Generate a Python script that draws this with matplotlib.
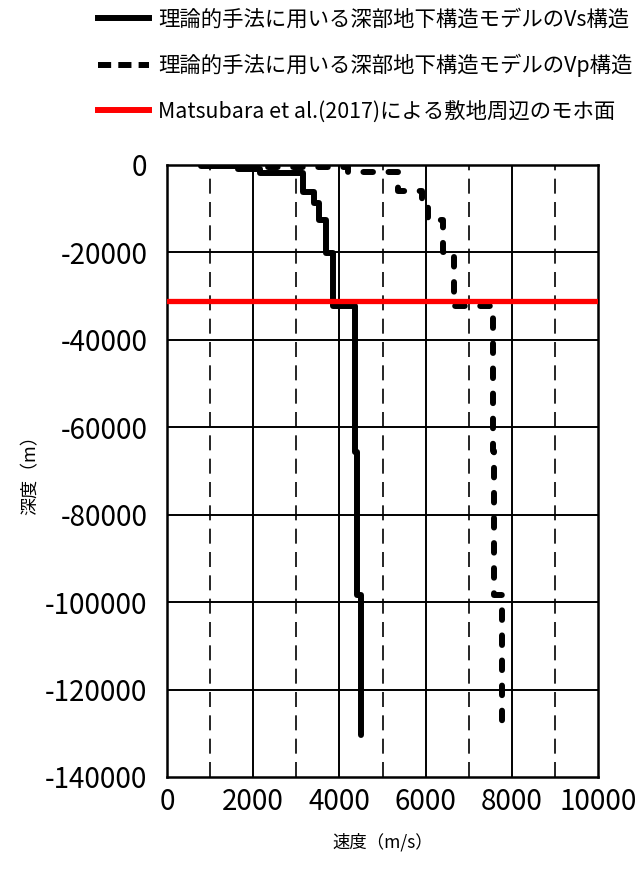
import numpy as np
import matplotlib
matplotlib.use("Agg")
import matplotlib.pyplot as plt
from matplotlib.lines import Line2D

plt.rcParams["font.family"] = ["Noto Sans CJK JP", "DejaVu Sans"]
plt.rcParams["axes.unicode_minus"] = False

# layer tops (m) and velocities (m/s); last entry = bottom of model
vs_depth = [0, -200, -1000, -1900, -6100, -8600, -12600, -20100, -32200,
            -65600, -98400, -130500]
vs_vel = [800, 1650, 2160, 3160, 3400, 3530, 3680, 3840, 4360, 4400, 4490]

vp_depth = [0, -500, -1700, -5900, -8400, -12600, -19900, -32200,
            -65400, -98400, -130500]
vp_vel = [1800, 4200, 5370, 5910, 6060, 6410, 6660, 7570, 7590, 7780]

moho_depth = -31000

labels = ["理論的手法に用いる深部地下構造モデルのVs構造",
          "理論的手法に用いる深部地下構造モデルのVp構造",
          "Matsubara et al.(2017)による敷地周辺のモホ面"]


def staircase(depth, vel):
    d = np.asarray(depth, float)
    v = np.asarray(vel, float)
    x = np.repeat(v, 2)
    y = np.empty_like(x)
    y[0::2] = d[:-1]
    y[1::2] = d[1:]
    return x, y


fig = plt.figure(figsize=(6.37, 8.73), dpi=100)
ax = fig.add_axes([167 / 637, 1 - 777 / 873, 431 / 637, 612 / 873])

# grid: solid every 2000 / 20000, dashed at odd thousands
for xv in range(2000, 10000, 2000):
    ax.axvline(xv, color="black", lw=1.4, zorder=1)
for xv in range(1000, 10000, 2000):
    ax.axvline(xv, color="black", lw=1.2, ls=(0, (9, 5)), zorder=1)
for yv in range(-20000, -140000, -20000):
    ax.axhline(yv, color="black", lw=1.4, zorder=1)

x, y = staircase(vs_depth, vs_vel)
ax.plot(x, y, color="black", lw=4.3, solid_capstyle="round",
        solid_joinstyle="round", zorder=3)
x, y = staircase(vp_depth, vp_vel)
ax.plot(x, y, color="black", lw=4.3, ls=(0, (1.6, 2.6)),
        dash_capstyle="round", zorder=3)
ax.axhline(moho_depth, color="#ff0000", lw=3.8, zorder=4)

ax.set_xlim(0, 10000)
ax.set_ylim(-140000, 0)
ax.set_xticks(range(0, 10001, 2000))
ax.set_yticks(range(-140000, 1, 20000))
ax.tick_params(length=0, labelsize=20)
ax.tick_params(axis="x", pad=7)
ax.tick_params(axis="y", pad=14)
for s in ax.spines.values():
    s.set_linewidth(1.8)

ax.set_xlabel("速度（m/s）", fontsize=12.5, labelpad=12)
ax.set_ylabel("深度（m）", fontsize=13)
ax.yaxis.set_label_coords(-0.295, 0.5)

handles = [Line2D([], [], color="black", lw=4.3),
           Line2D([], [], color="black", lw=4.3, ls=(0, (2.2, 1.2))),
           Line2D([], [], color="#ff0000", lw=4.3)]
fig.legend(handles, labels, loc="upper left",
           bbox_to_anchor=(89 / 637, 1.0), frameon=False,
           fontsize=15.4, handlelength=2.4, handletextpad=0.42,
           labelspacing=1.08, borderaxespad=0)

fig.savefig("out.png", dpi=100)
